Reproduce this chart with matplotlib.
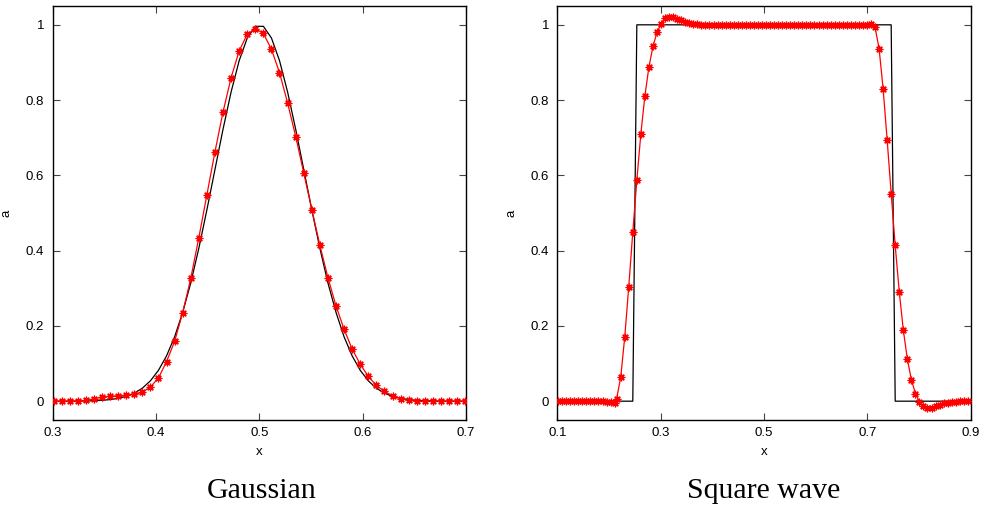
import matplotlib
matplotlib.use("Agg")
import matplotlib.pyplot as plt
from matplotlib.ticker import FuncFormatter

# ---------------- data ----------------
# Gaussian panel (cell centres)
x_gauss = [0.3008, 0.3086, 0.3164, 0.3242, 0.3320, 0.3398, 0.3477, 0.3555, 0.3633, 0.3711,
           0.3789, 0.3867, 0.3945, 0.4023, 0.4102, 0.4180, 0.4258, 0.4336, 0.4414, 0.4492,
           0.4570, 0.4648, 0.4727, 0.4805, 0.4883, 0.4961, 0.5039, 0.5117, 0.5195, 0.5273,
           0.5352, 0.5430, 0.5508, 0.5586, 0.5664, 0.5742, 0.5820, 0.5898, 0.5977, 0.6055,
           0.6133, 0.6211, 0.6289, 0.6367, 0.6445, 0.6523, 0.6602, 0.6680, 0.6758, 0.6836,
           0.6914, 0.6992]
exact_gauss = [0.0, 0.0, 0.0001, 0.0003, 0.0006, 0.0012, 0.0023, 0.0042, 0.0074, 0.0128,
               0.0213, 0.0344, 0.0539, 0.0817, 0.1205, 0.171, 0.236, 0.314, 0.406, 0.508,
               0.615, 0.722, 0.822, 0.905, 0.965, 0.996, 0.996, 0.965, 0.905, 0.822,
               0.722, 0.615, 0.508, 0.406, 0.314, 0.236, 0.171, 0.1205, 0.0817, 0.0539,
               0.0344, 0.0213, 0.0128, 0.0074, 0.0042, 0.0023, 0.0012, 0.0006, 0.0003, 0.0001,
               0.0, 0.0]
num_gauss = [0.0, 0.0, 0.0, 0.0005, 0.002, 0.006, 0.0107, 0.0133, 0.0143, 0.016,
             0.0178, 0.024, 0.0374, 0.0615, 0.1053, 0.159, 0.2354, 0.326, 0.434, 0.548,
             0.662, 0.768, 0.860, 0.931, 0.975, 0.990, 0.977, 0.935, 0.873, 0.793,
             0.703, 0.606, 0.509, 0.414, 0.328, 0.253, 0.191, 0.1387, 0.0978, 0.0658,
             0.0418, 0.0258, 0.0142, 0.0071, 0.002, 0.0005, 0.0, 0.0, 0.0, 0.0,
             0.0, 0.0]

# Square wave panel (cell centres)
x_square = [0.1016, 0.1094, 0.1172, 0.1250, 0.1328, 0.1406, 0.1484, 0.1563, 0.1641, 0.1719,
            0.1797, 0.1875, 0.1953, 0.2031, 0.2109, 0.2148, 0.2227, 0.2305, 0.2383, 0.2461,
            0.2539, 0.2617, 0.2695, 0.2773, 0.2852, 0.2930, 0.3008, 0.3086, 0.3164, 0.3242,
            0.3320, 0.3398, 0.3477, 0.3555, 0.3633, 0.3711, 0.3789, 0.3867, 0.3945, 0.4023,
            0.4102, 0.4180, 0.4258, 0.4336, 0.4414, 0.4492, 0.4570, 0.4648, 0.4727, 0.4805,
            0.4883, 0.4961, 0.5039, 0.5117, 0.5195, 0.5273, 0.5352, 0.5430, 0.5508, 0.5586,
            0.5664, 0.5742, 0.5820, 0.5898, 0.5977, 0.6055, 0.6133, 0.6211, 0.6289, 0.6367,
            0.6445, 0.6523, 0.6602, 0.6680, 0.6758, 0.6836, 0.6914, 0.6992, 0.7070, 0.7148,
            0.7227, 0.7305, 0.7383, 0.7461, 0.7539, 0.7617, 0.7695, 0.7773, 0.7852, 0.7930,
            0.8008, 0.8086, 0.8164, 0.8242, 0.8320, 0.8398, 0.8477, 0.8555, 0.8633, 0.8711,
            0.8789, 0.8867, 0.8945]
exact_square = [0, 0, 0, 0, 0, 0, 0, 0, 0, 0,
                0, 0, 0, 0, 0, 0, 0, 0, 0, 0,
                1, 1, 1, 1, 1, 1, 1, 1, 1, 1,
                1, 1, 1, 1, 1, 1, 1, 1, 1, 1,
                1, 1, 1, 1, 1, 1, 1, 1, 1, 1,
                1, 1, 1, 1, 1, 1, 1, 1, 1, 1,
                1, 1, 1, 1, 1, 1, 1, 1, 1, 1,
                1, 1, 1, 1, 1, 1, 1, 1, 1, 1,
                1, 1, 1, 1, 0, 0, 0, 0, 0, 0,
                0, 0, 0, 0, 0, 0, 0, 0, 0, 0,
                0, 0, 0]
num_square = [0.0, 0.0, 0.0, 0.0, 0.0, 0.0, 0.0, 0.0, 0.0, 0.0,
              0.0, 0.0, -0.001, -0.002, -0.004, 0.007, 0.063, 0.1705, 0.3046, 0.4494,
              0.587, 0.7105, 0.811, 0.888, 0.943, 0.980, 1.002, 1.017, 1.0196, 1.0196,
              1.016, 1.0124, 1.008, 1.0045, 1.0018, 1.001, 1.0, 1.0, 1.0, 1.0,
              1.0, 1.0, 1.0, 1.0, 1.0, 1.0, 1.0, 1.0, 1.0, 1.0,
              1.0, 1.0, 1.0, 1.0, 1.0, 1.0, 1.0, 1.0, 1.0, 1.0,
              1.0, 1.0, 1.0, 1.0, 1.0, 1.0, 1.0, 1.0, 1.0, 1.0,
              1.0, 1.0, 1.0, 1.0, 1.0, 1.0, 1.0, 1.0, 1.001, 0.994,
              0.937, 0.8305, 0.6946, 0.5516, 0.4139, 0.2913, 0.190, 0.1128, 0.0569, 0.0204,
              -0.002, -0.013, -0.0187, -0.017, -0.0133, -0.009, -0.006, -0.004, -0.002, -0.001,
              0.0, 0.0, 0.0]

gauss_xticks = [0.3, 0.4, 0.5, 0.6, 0.7]
square_xticks = [0.1, 0.3, 0.5, 0.7, 0.9]
yticks = [0, 0.2, 0.4, 0.6, 0.8, 1.0]
titles = ["Gaussian", "Square wave"]

# ---------------- figure ----------------
plt.rcParams['font.family'] = ['Liberation Sans', 'DejaVu Sans']
fig = plt.figure(figsize=(9.9, 5.08), dpi=100)

W, H = 990.0, 508.0
ax1 = fig.add_axes([52.7 / W, 1 - 420 / H, 413.3 / W, 414 / H])
ax2 = fig.add_axes([557.3 / W, 1 - 420 / H, 413.4 / W, 414 / H])

fmt = FuncFormatter(lambda v, p: ('%g' % round(v, 3)))

panels = [
    (ax1, x_gauss, exact_gauss, num_gauss, (0.3, 0.7), gauss_xticks, titles[0], 262, 6.5),
    (ax2, x_square, exact_square, num_square, (0.1, 0.9), square_xticks, titles[1], 764, 512),
]

for ax, xs, ex, nu, xl, xt, title, cx, ylx in panels:
    ax.plot(xs, ex, color='black', lw=0.9, zorder=2)
    ax.plot(xs, nu, color='#ff0000', lw=0.9, marker=(8, 2, 0), markersize=5.5,
            markeredgewidth=0.9, markeredgecolor='#ff0000', zorder=3, clip_on=True)
    ax.set_xlim(*xl)
    ax.set_ylim(-0.05, 1.05)
    ax.set_xticks(xt)
    ax.set_yticks(yticks)
    ax.xaxis.set_major_formatter(fmt)
    ax.yaxis.set_major_formatter(fmt)
    ax.tick_params(direction='in', top=True, right=True, length=5, width=0.8,
                   color='#444444', labelsize=9.5, pad=6)
    ax.tick_params(axis='x', pad=5)
    for s in ax.spines.values():
        s.set_linewidth(1.0)
        s.set_color('black')
    ax.set_xlabel('x', fontsize=9.5, va='center')
    ax.set_ylabel('a', fontsize=9.5, va='center', ha='center')
    ax.xaxis.set_label_coords(0.5, -0.0773)
    left_px = ax.get_position().x0 * W
    ax.yaxis.set_label_coords((ylx - left_px) / 413.3, 0.5)
    fig.text(cx / W, 1 - 498 / H, title, ha='center', va='baseline',
             fontsize=21.5, family=['Liberation Serif', 'DejaVu Serif'])

fig.savefig('out.png', dpi=100)
